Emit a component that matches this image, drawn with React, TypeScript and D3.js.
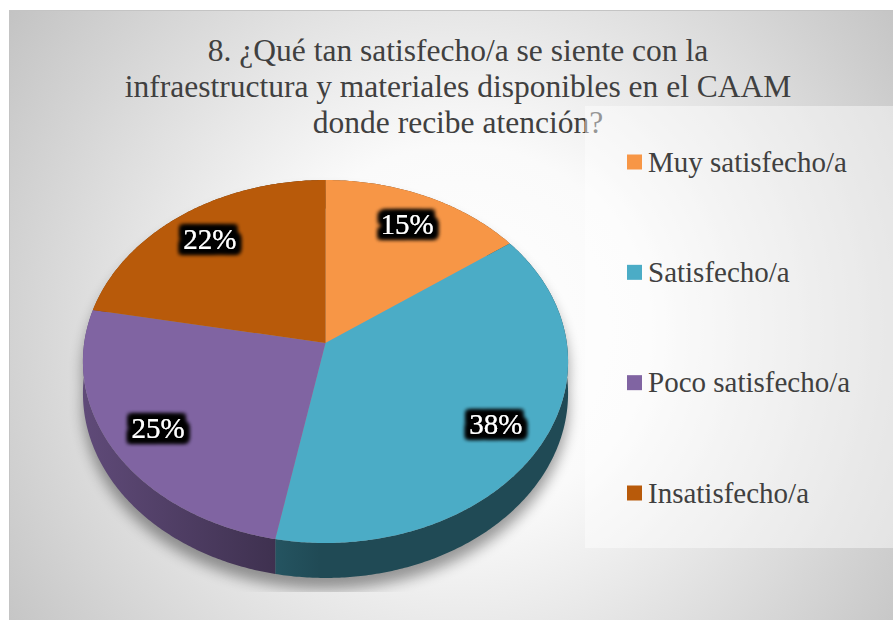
import { useRef, useEffect } from 'react';
import * as d3 from 'd3';

const categories = ['Muy satisfecho/a', 'Satisfecho/a', 'Poco satisfecho/a', 'Insatisfecho/a'];
const values = [15, 38, 25, 22];
const colors = ['#F79646', '#4BACC6', '#8064A2', '#B85A0A'];
const titleLines = [
  '8. ¿Qué tan satisfecho/a se siente con la',
  'infraestructura y materiales disponibles en el CAAM',
  'donde recibe atención?',
];

const serif = "'Liberation Serif', Tinos, 'Times New Roman', 'DejaVu Serif', serif";

function App() {
  const svgRef = useRef(null);
  const width = 893;
  const height = 620;

  useEffect(() => {
    const svg = d3.select(svgRef.current);
    svg.selectAll('*').remove();
    const defs = svg.append('defs');

    // background
    const bg = defs
      .append('radialGradient')
      .attr('id', 'bg')
      .attr('gradientUnits', 'userSpaceOnUse')
      .attr('cx', 460)
      .attr('cy', 330)
      .attr('r', 560);
    bg.append('stop').attr('offset', 0).attr('stop-color', '#ffffff');
    bg.append('stop').attr('offset', 0.33).attr('stop-color', '#fafafa');
    bg.append('stop').attr('offset', 1).attr('stop-color', '#c2c2c2');

    svg
      .append('rect')
      .attr('x', 9.5)
      .attr('y', 10.5)
      .attr('width', 900)
      .attr('height', 640)
      .attr('fill', 'url(#bg)')
      .attr('stroke', '#c4c4c4');

    // perspective projection of the pie disc
    const cx = 325.5;
    const cy = 343;
    const rx = 241.3;
    const ry = 179.6;
    const depth = 31.4;
    const k = 0.102;
    const project = (a, f = 1, drop = 0) => {
      const x = f * Math.sin(a);
      const u = -f * Math.cos(a);
      const w = 1 - k * u;
      return [cx + (rx * x) / w, cy + (ry * u + depth * drop) / w];
    };
    const arcPts = (a0, a1, f = 1, drop = 0) => {
      const n = Math.max(2, Math.ceil(Math.abs(a1 - a0) / 0.01));
      return d3.range(n + 1).map((i) => project(a0 + ((a1 - a0) * i) / n, f, drop));
    };
    const line = d3.line().curve(d3.curveLinearClosed);

    const arcs = d3.pie().sort(null).value((d) => d)(values);

    // shadow
    const shadow = defs
      .append('filter')
      .attr('id', 'shadow')
      .attr('x', '-20%')
      .attr('y', '-20%')
      .attr('width', '140%')
      .attr('height', '140%');
    shadow.append('feGaussianBlur').attr('stdDeviation', 7);
    defs
      .append('clipPath')
      .attr('id', 'plotClip')
      .append('rect')
      .attr('x', 68)
      .attr('y', 100)
      .attr('width', 517)
      .attr('height', 492);

    const sh = svg
      .append('g')
      .attr('clip-path', 'url(#plotClip)')
      .append('g')
      .attr('filter', 'url(#shadow)')
      .attr('transform', 'translate(0,11)')
      .attr('opacity', 0.38);
    sh.append('path').attr('d', line(arcPts(0, 2 * Math.PI))).attr('fill', '#000');
    sh.append('path').attr('d', line(arcPts(0, 2 * Math.PI, 1, 1))).attr('fill', '#000');
    sh.append('path')
      .attr('d', line([...arcPts(Math.PI / 2, 1.5 * Math.PI), ...arcPts(1.5 * Math.PI, Math.PI / 2, 1, 1)]))
      .attr('fill', '#000');

    const scaleColor = (c, f) => {
      const r = d3.rgb(c);
      return d3.rgb(r.r * f, r.g * f, r.b * f).formatHex();
    };

    // side walls
    arcs.forEach((d, i) => {
      const g = defs
        .append('linearGradient')
        .attr('id', `side${i}`)
        .attr('gradientUnits', 'userSpaceOnUse')
        .attr('x1', 85)
        .attr('x2', 320)
        .attr('y1', 0)
        .attr('y2', 0);
      g.append('stop').attr('offset', 0).attr('stop-color', scaleColor(colors[i], 0.74));
      g.append('stop').attr('offset', 1).attr('stop-color', scaleColor(colors[i], 0.43));
      svg
        .append('path')
        .attr('d', line([...arcPts(d.startAngle, d.endAngle), ...arcPts(d.endAngle, d.startAngle, 1, 1)]))
        .attr('fill', `url(#side${i})`);
    });

    // top faces
    arcs.forEach((d, i) => {
      svg
        .append('path')
        .attr('d', line([project(0, 0), ...arcPts(d.startAngle, d.endAngle)]))
        .attr('fill', colors[i]);
    });

    // title
    svg
      .append('g')
      .selectAll('text')
      .data(titleLines)
      .join('text')
      .attr('x', 458)
      .attr('y', (_, i) => 61 + i * 36)
      .attr('text-anchor', 'middle')
      .style('font-family', serif)
      .style('font-size', '31.5px')
      .attr('fill', '#404040')
      .text((d) => d);

    // legend panel
    svg
      .append('rect')
      .attr('x', 585)
      .attr('y', 106)
      .attr('width', 320)
      .attr('height', 442)
      .attr('fill', '#ffffff')
      .attr('opacity', 0.45);

    const yLegend = d3.scalePoint().domain(categories).range([162, 493]);
    const legend = svg
      .append('g')
      .selectAll('g')
      .data(categories)
      .join('g')
      .attr('transform', (d) => `translate(627,${yLegend(d)})`);
    legend
      .append('rect')
      .attr('x', 0)
      .attr('y', -7.5)
      .attr('width', 15)
      .attr('height', 15)
      .attr('fill', (_, i) => colors[i]);
    legend
      .append('text')
      .attr('x', 21)
      .attr('y', 9.5)
      .style('font-family', serif)
      .style('font-size', '29px')
      .attr('fill', '#404040')
      .text((d) => d);

    // data labels
    const glow = defs
      .append('filter')
      .attr('id', 'glow')
      .attr('x', '-30%')
      .attr('y', '-50%')
      .attr('width', '160%')
      .attr('height', '200%');
    glow.append('feMorphology').attr('in', 'SourceAlpha').attr('operator', 'dilate').attr('radius', 5).attr('result', 'd');
    glow.append('feGaussianBlur').attr('in', 'd').attr('stdDeviation', 2).attr('result', 'b');
    const merge = glow.append('feMerge');
    merge.append('feMergeNode').attr('in', 'b');
    merge.append('feMergeNode').attr('in', 'b');
    merge.append('feMergeNode').attr('in', 'SourceGraphic');

    const total = d3.sum(values);
    svg
      .append('g')
      .selectAll('text')
      .data(arcs)
      .join('text')
      .each(function (d) {
        const [x, y] = project((d.startAngle + d.endAngle) / 2, 0.8);
        d3.select(this).attr('x', x).attr('y', y + 10);
      })
      .attr('text-anchor', 'middle')
      .style('font-family', serif)
      .style('font-size', '29px')
      .attr('fill', '#ffffff')
      .attr('filter', 'url(#glow)')
      .text((d) => `${Math.round((d.value / total) * 100)}%`);
  }, [width, height]);

  return (
    <svg
      ref={svgRef}
      width={width}
      height={height}
      style={{ position: 'absolute', left: 0, top: 0, display: 'block', background: '#fff' }}
    ></svg>
  );
}

export default App;
